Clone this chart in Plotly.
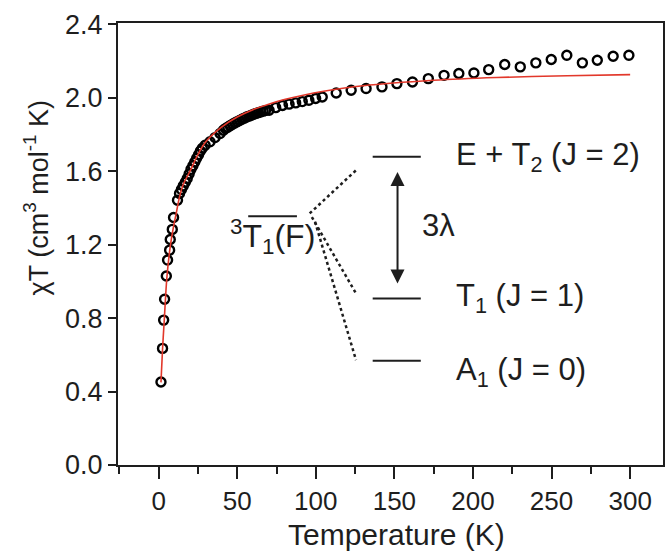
import plotly.graph_objects as go

# ---- data ----
temp_data = [1.5, 2.5, 3.2, 3.8, 4.9, 5.7, 7.0, 7.4, 8.7, 9.5, 12.0,
             13.3, 14.5, 15.7, 17.0, 18.2, 19.4, 20.6, 21.8, 23.0, 24.2, 25.4, 26.6, 27.8,
             29.6, 32.7, 35.9, 39.1, 41.2,
             42.5, 44.0, 45.5, 47.0, 48.5, 50.0, 51.5, 53.0, 54.5, 56.0, 57.5, 59.0, 60.5,
             62.0, 63.5, 65.0, 66.5, 68.0,
             70.3, 74.5, 78.8, 83.0, 87.2, 91.4, 95.6, 99.9, 104.1,
             113.0, 122.5, 132.0, 142.1, 151.6, 161.5, 171.6, 181.6, 191.0, 200.6,
             210.0, 220.2, 230.1, 240.0, 249.8, 259.7, 269.6, 279.1, 289.2, 299.2]
chiT_data = [0.452, 0.635, 0.789, 0.903, 1.029, 1.116, 1.170, 1.228, 1.283, 1.348, 1.442,
             1.479, 1.500, 1.520, 1.540, 1.560, 1.585, 1.610, 1.630, 1.650, 1.670, 1.690, 1.710, 1.725,
             1.741, 1.760, 1.783, 1.805, 1.823,
             1.832, 1.840, 1.848, 1.856, 1.863, 1.870, 1.876, 1.883, 1.889, 1.895, 1.900, 1.905, 1.910,
             1.915, 1.919, 1.923, 1.927, 1.930,
             1.932, 1.946, 1.958, 1.965, 1.972, 1.979, 1.986, 1.996, 2.004,
             2.026, 2.041, 2.050, 2.059, 2.077, 2.086, 2.104, 2.122, 2.132, 2.135,
             2.153, 2.181, 2.168, 2.190, 2.208, 2.231, 2.190, 2.204, 2.226, 2.231]

temp_fit = [1.5, 2.5, 3.6, 5.3, 7.4, 9.5, 11.2, 13.3, 15.8, 20.0, 25.0, 30.0, 40.0, 50.0,
            60.0, 70.0, 80.0, 92.0, 105.0, 130.0, 175.0, 215.0, 260.0, 300.0]
chiT_fit = [0.45, 0.63, 0.79, 1.025, 1.19, 1.30, 1.37, 1.46, 1.53, 1.60, 1.69, 1.76, 1.84, 1.895,
            1.935, 1.965, 1.99, 2.014, 2.035, 2.065, 2.095, 2.11, 2.12, 2.126]

x_ticks = [0, 50, 100, 150, 200, 250, 300]
y_ticks = [0.0, 0.4, 0.8, 1.2, 1.6, 2.0, 2.4]
y_tick_labels = ["0.0", "0.4", "0.8", "1.2", "1.6", "2.0", "2.4"]

FONT = "Liberation Sans, Arial, sans-serif"
INK = "#1e1e1e"

fig = go.Figure()
fig.add_trace(go.Scatter(
    x=temp_data, y=chiT_data, mode="markers",
    marker=dict(symbol="circle-open", size=9, color="black", line=dict(width=2.4, color="black")),
    showlegend=False, hoverinfo="skip"))
fig.add_trace(go.Scatter(
    x=temp_fit, y=chiT_fit, mode="lines", line=dict(color="#e2382b", width=1.6, shape="spline"),
    showlegend=False, hoverinfo="skip"))

# ---- energy level inset diagram ----
lvl_x0, lvl_x1 = 136.2, 166.8
levels = [(1.678, "E + T<sub>2</sub> (J = 2)", 1.678),
          (0.907, "T<sub>1</sub> (J = 1)", 0.907),
          (0.568, "A<sub>1</sub> (J = 0)", 0.505)]
shapes = []
annotations = []
for yl, txt, ytxt in levels:
    shapes.append(dict(type="line", xref="x", yref="y", x0=lvl_x0, x1=lvl_x1, y0=yl, y1=yl,
                       line=dict(color=INK, width=2)))
    annotations.append(dict(x=187.9, y=ytxt, xref="x", yref="y", text=txt, showarrow=False,
                            xanchor="left", yanchor="middle",
                            font=dict(family=FONT, size=31, color=INK)))

# dotted correlation lines
for (xa, ya, xb, yb) in [(96.1, 1.370, 125.6, 1.605),
                         (97.5, 1.350, 125.6, 0.934),
                         (99.5, 1.325, 125.6, 0.571)]:
    shapes.append(dict(type="line", xref="x", yref="y", x0=xa, y0=ya, x1=xb, y1=yb,
                       line=dict(color=INK, width=2.5, dash="dot")))

# overline of 3T1(F)
shapes.append(dict(type="line", xref="x", yref="y", x0=57.0, x1=88.0, y0=1.355, y1=1.355,
                   line=dict(color=INK, width=2)))
annotations.append(dict(x=72.5, y=1.245, xref="x", yref="y",
                        text="<sup>3</sup>T<sub>1</sub>(F)", showarrow=False,
                        xanchor="center", yanchor="middle",
                        font=dict(family=FONT, size=32, color=INK)))

# double-headed arrow
annotations.append(dict(x=152.0, y=1.596, ax=152.0, ay=0.980, xref="x", yref="y",
                        axref="x", ayref="y", text="", showarrow=True,
                        arrowhead=2, startarrowhead=2, arrowside="end+start",
                        arrowsize=1.4, startarrowsize=1.4, arrowwidth=2, arrowcolor=INK))
annotations.append(dict(x=166.5, y=1.306, xref="x", yref="y", text="3λ", showarrow=False,
                        xanchor="left", yanchor="middle",
                        font=dict(family=FONT, size=31, color=INK)))

# axis titles
annotations.append(dict(x=0.5105, y=-0.158, xref="paper", yref="paper",
                        text="Temperature (K)", showarrow=False,
                        xanchor="center", yanchor="middle",
                        font=dict(family=FONT, size=30, color=INK)))
annotations.append(dict(x=-0.1507, y=0.605, xref="paper", yref="paper",
                        text="χT (cm<sup>3</sup> mol<sup>-1</sup> K)", showarrow=False,
                        textangle=-90, xanchor="center", yanchor="middle",
                        font=dict(family=FONT, size=27, color=INK)))

fig.update_layout(
    width=667, height=554,
    margin=dict(l=117.5, r=2, t=22.7, b=89),
    paper_bgcolor="white", plot_bgcolor="white",
    shapes=shapes, annotations=annotations,
    font=dict(family=FONT, color=INK),
    xaxis=dict(range=[-25.84, 320.9], tickvals=x_ticks, ticks="outside", ticklen=12,
               tickwidth=2, tickcolor=INK, showline=True, linewidth=2, linecolor=INK,
               mirror=True, showgrid=False, zeroline=False,
               tickfont=dict(family=FONT, size=26, color=INK),
               minor=dict(dtick=50, tick0=25, ticks="outside", ticklen=7, tickwidth=2,
                          tickcolor=INK, showgrid=False)),
    yaxis=dict(range=[0, 2.407], tickvals=y_ticks, ticktext=y_tick_labels, ticks="outside",
               ticklen=8, tickwidth=2, tickcolor=INK, showline=True, linewidth=2,
               linecolor=INK, mirror=True, showgrid=False, zeroline=False,
               tickfont=dict(family=FONT, size=27, color=INK)),
)

fig.write_html("out.html")
